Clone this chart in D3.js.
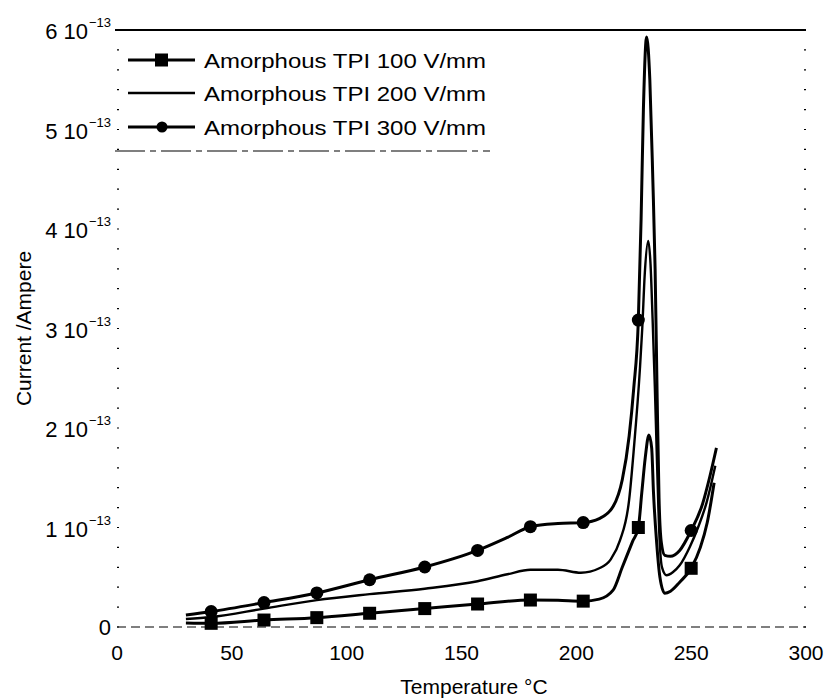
<!DOCTYPE html>
<html>
<head>
<meta charset="utf-8">
<script src="https://cdn.jsdelivr.net/npm/d3@7/dist/d3.min.js"></script>
<style>
    body { margin: 0; background: #fff; }
    svg { display: block; font-family: "Liberation Sans", Arial, sans-serif; }
</style>
</head>
<body>
<svg id="chart" width="833" height="698"></svg>
<script>
// current values are in units of 1e-13 A
var temps100 = [30, 41, 64, 87, 110, 134, 157, 180, 192, 203, 210, 216, 220, 224.5, 227, 228.5, 230, 231.6, 232.8, 233.6, 235, 236.4, 238.5, 241, 245, 250, 254, 257, 260];
var amps100 = [0.04, 0.037, 0.07, 0.094, 0.138, 0.185, 0.231, 0.271, 0.268, 0.26, 0.28, 0.37, 0.6, 0.86, 1.0, 1.35, 1.7, 1.93, 1.8, 1.35, 0.84, 0.5, 0.34, 0.36, 0.45, 0.59, 0.8, 1.05, 1.45];

var temps200 = [30, 41, 64, 87, 110, 134, 157, 170, 180, 192, 202, 210, 215, 219, 223, 225, 227.7, 228.7, 229.8, 231.3, 232.3, 233.2, 234.2, 235.2, 236.2, 237.3, 239.3, 242, 245, 249.5, 253, 256.7, 260.5];
var amps200 = [0.08, 0.1, 0.185, 0.27, 0.33, 0.385, 0.46, 0.53, 0.575, 0.575, 0.545, 0.59, 0.68, 0.87, 1.28, 1.78, 2.6, 3.0, 3.55, 3.88, 3.65, 3.1, 2.4, 1.6, 0.9, 0.6, 0.52, 0.55, 0.62, 0.81, 1.0, 1.25, 1.62];

var temps300 = [30, 41, 64, 87, 110, 134, 157, 170, 180, 192, 203, 210, 216, 220, 223, 225, 227, 228.2, 229.2, 230.6, 232, 233.3, 234.3, 235.2, 236, 237, 238.5, 241, 245, 250, 255, 258, 261];
var amps300 = [0.12, 0.155, 0.245, 0.342, 0.475, 0.603, 0.77, 0.9, 1.008, 1.04, 1.049, 1.09, 1.21, 1.48, 1.92, 2.4, 3.085, 4.1, 5.2, 5.93, 5.5, 4.5, 3.6, 2.3, 1.3, 0.85, 0.72, 0.71, 0.77, 0.97, 1.24, 1.5, 1.8];

// temperatures where a symbol is drawn
var markerTemps = [41, 64, 87, 110, 134, 157, 180, 203, 227, 250];

var legendLabels = ["Amorphous TPI 100 V/mm", "Amorphous TPI 200 V/mm", "Amorphous TPI 300 V/mm"];
var xTicks = [0, 50, 100, 150, 200, 250, 300];
var yTicks = [0, 1, 2, 3, 4, 5, 6];

var svg = d3.select('#chart');

var x = d3.scaleLinear().domain([0, 300]).range([117, 806]);
var y = d3.scaleLinear().domain([0, 6]).range([627, 30]);

function zipSeries(ts, vs) {
    return ts.map(function (t, i) { return {t: t, v: vs[i]}; });
}

var series = [
    {name: legendLabels[0], data: zipSeries(temps100, amps100), symbol: 'square', width: 3},
    {name: legendLabels[1], data: zipSeries(temps200, amps200), symbol: 'none', width: 2.4},
    {name: legendLabels[2], data: zipSeries(temps300, amps300), symbol: 'circle', width: 3}
];

/** frame: solid top, broken bottom, dotted minor ticks on the sides */
svg.append('line')
    .attr('x1', 115).attr('x2', 806)
    .attr('y1', y(6)).attr('y2', y(6))
    .attr('stroke', '#000').attr('stroke-width', 2);

svg.append('line')
    .attr('x1', x(0)).attr('x2', x(300))
    .attr('y1', y(0)).attr('y2', y(0))
    .attr('stroke', '#000').attr('stroke-width', 1.2)
    .attr('stroke-dasharray', '9,5');

var minor = d3.range(0, 6.01, 0.2);
svg.selectAll('.ltick').data(minor).enter().append('line')
    .attr('class', 'ltick')
    .attr('x1', x(0)).attr('x2', x(0) + 2)
    .attr('y1', d => y(d)).attr('y2', d => y(d))
    .attr('stroke', '#000').attr('stroke-width', 1.2);
svg.selectAll('.rtick').data(minor).enter().append('line')
    .attr('class', 'rtick')
    .attr('x1', x(300) - 2).attr('x2', x(300))
    .attr('y1', d => y(d)).attr('y2', d => y(d))
    .attr('stroke', '#000').attr('stroke-width', 1.2);

// x tick labels
svg.selectAll('.xlab').data(xTicks).enter().append('text')
    .attr('class', 'xlab')
    .attr('x', d => x(d))
    .attr('y', 660)
    .attr('text-anchor', 'middle')
    .style('font-size', '21px')
    .text(d => d);

// y tick labels, "n 10^-13"
yTicks.forEach(function (d) {
    if (d === 0) {
        svg.append('text')
            .attr('x', 111).attr('y', y(d) + 8)
            .attr('text-anchor', 'end')
            .style('font-size', '22px')
            .text('0');
        return;
    }
    svg.append('text')
        .attr('x', 88).attr('y', y(d) + 9)
        .attr('text-anchor', 'end')
        .style('font-size', '22px')
        .text(d + ' 10');
    svg.append('text')
        .attr('x', 89).attr('y', y(d) - 3)
        .style('font-size', '13px')
        .text('\u221213');
});

// axis titles
svg.append('text')
    .attr('x', 474).attr('y', 694)
    .attr('text-anchor', 'middle')
    .style('font-size', '21px')
    .text('Temperature \u00B0C');

svg.append('text')
    .attr('transform', 'translate(31,' + ((y(0) + y(6)) / 2) + ') rotate(-90)')
    .attr('text-anchor', 'middle')
    .style('font-size', '21px')
    .text('Current /Ampere');

/** curves */
var line = d3.line()
    .x(d => x(d.t))
    .y(d => y(d.v))
    .curve(d3.curveMonotoneX);

series.forEach(function (s) {
    svg.append('path')
        .datum(s.data)
        .attr('d', line)
        .attr('fill', 'none')
        .attr('stroke', '#000')
        .attr('stroke-width', s.width)
        .attr('stroke-linejoin', 'round');

    var pts = s.data.filter(d => markerTemps.indexOf(d.t) >= 0);
    if (s.symbol === 'square') {
        svg.selectAll(null).data(pts).enter().append('rect')
            .attr('x', d => x(d.t) - 6.5)
            .attr('y', d => y(d.v) - 6.5)
            .attr('width', 13).attr('height', 13)
            .attr('fill', '#000');
    } else if (s.symbol === 'circle') {
        svg.selectAll(null).data(pts).enter().append('circle')
            .attr('cx', d => x(d.t))
            .attr('cy', d => y(d.v))
            .attr('r', 6.5)
            .attr('fill', '#000');
    }
});

/** legend */
var legend = svg.append('g');
legend.append('line')
    .attr('x1', 115).attr('x2', 490)
    .attr('y1', 151).attr('y2', 151)
    .attr('stroke', '#000').attr('stroke-width', 1.1)
    .attr('stroke-dasharray', '30,5,6,5');

var rowY = [60, 93, 127];
series.forEach(function (s, i) {
    var ly = rowY[i];
    legend.append('line')
        .attr('x1', 128).attr('x2', 195)
        .attr('y1', ly).attr('y2', ly)
        .attr('stroke', '#000')
        .attr('stroke-width', i === 1 ? 2.4 : 3);
    if (s.symbol === 'square') {
        legend.append('rect')
            .attr('x', 155).attr('y', ly - 6.5)
            .attr('width', 13).attr('height', 13)
            .attr('fill', '#000');
    } else if (s.symbol === 'circle') {
        legend.append('circle')
            .attr('cx', 162).attr('cy', ly)
            .attr('r', 5.5)
            .attr('fill', '#000');
    }
    legend.append('text')
        .attr('x', 204).attr('y', ly + 7.5)
        .attr('textLength', 282)
        .attr('lengthAdjust', 'spacingAndGlyphs')
        .style('font-size', '21px')
        .text(s.name);
});
</script>
</body>
</html>
